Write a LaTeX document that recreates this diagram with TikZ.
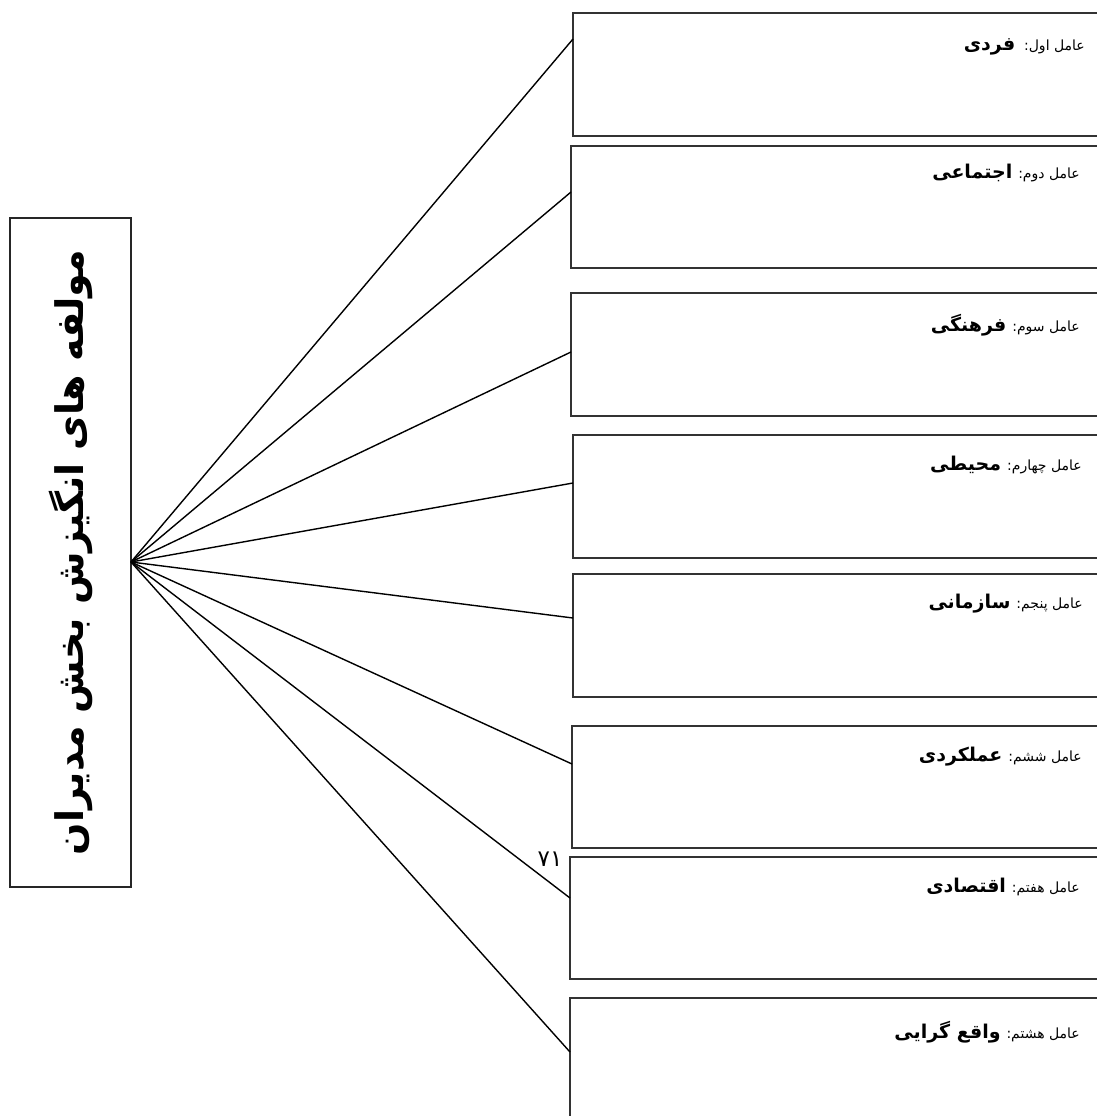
\documentclass[tikz,border=0pt]{standalone}
\usepackage{fontspec}
\usetikzlibrary{calc}
\TeXXeTstate=1
\newfontfamily\arabicfont[Script=Arabic]{DejaVu Sans}
\begin{document}
\begin{tikzpicture}[x=1pt,y=-1pt,
  factorbox/.style={draw=black!80, line width=1.4pt, rectangle, anchor=north west,
    minimum width=540pt, inner sep=0pt, outer sep=0pt},
  titlebox/.style={draw=black!85, line width=1.4pt, rectangle, anchor=north west,
    minimum width=121pt, minimum height=669pt, inner sep=0pt, outer sep=0pt},
  link/.style={line width=1.4pt, black},
  factortext/.style={anchor=east, inner sep=0pt, font=\arabicfont\fontsize{14}{16}\selectfont},
]
\newcommand\kw[1]{{\bfseries\fontsize{19}{21}\selectfont #1}}
\useasboundingbox (0,0) rectangle (1096,1116);

% main title box
\node[titlebox] (title) at (10,218) {};
\node[rotate=90, inner sep=0pt, font=\arabicfont\bfseries\fontsize{38}{42}\selectfont]
  (titletext) at (title.center) {\beginR مولفه های انگیزش بخش مدیران\endR};
\coordinate (hub) at (title.east |- 0,562);

% factor boxes
\node[factorbox, minimum height=123pt] (b1) at (573,13) {};
\node[factorbox, minimum height=122pt] (b2) at (571,146) {};
\node[factorbox, minimum height=123pt] (b3) at (571,293) {};
\node[factorbox, minimum height=123pt] (b4) at (573,435) {};
\node[factorbox, minimum height=123pt] (b5) at (573,574) {};
\node[factorbox, minimum height=122pt] (b6) at (572,726) {};
\node[factorbox, minimum height=122pt] (b7) at (570,857) {};
\node[factorbox, minimum height=140pt] (b8) at (570,998) {};

% factor labels
\node[factortext] (t1) at (1085,47)  {\beginR عامل اول:\ \ \kw{فردی}\endR};
\node[factortext] (t2) at (1080,173) {\beginR عامل دوم: \kw{اجتماعی}\endR};
\node[factortext] (t3) at (1080,325) {\beginR عامل سوم: \kw{فرهنگی}\endR};
\node[factortext] (t4) at (1082,465) {\beginR عامل چهارم: \kw{محیطی}\endR};
\node[factortext] (t5) at (1083,604) {\beginR عامل پنجم: \kw{سازمانی}\endR};
\node[factortext] (t6) at (1082,757) {\beginR عامل ششم: \kw{عملکردی}\endR};
\node[factortext] (t7) at (1080,887) {\beginR عامل هفتم: \kw{اقتصادی}\endR};
\node[factortext] (t8) at (1080,1032) {\beginR عامل هشتم: \kw{واقع گرایی}\endR};

% page number
\node[inner sep=0pt, font=\arabicfont\fontsize{23}{25}\selectfont] (pagenum) at (550,859) {۷۱};

% connectors
\draw[link] (hub) -- ($(b1.north west)+(0,26)$);
\draw[link] (hub) -- ($(b2.north west)+(0,46)$);
\draw[link] (hub) -- ($(b3.north west)+(0,59)$);
\draw[link] (hub) -- ($(b4.north west)+(0,48)$);
\draw[link] (hub) -- ($(b5.north west)+(0,44)$);
\draw[link] (hub) -- ($(b6.north west)+(0,38)$);
\draw[link] (hub) -- ($(b7.north west)+(0,41)$);
\draw[link] (hub) -- ($(b8.north west)+(0,54)$);
\end{tikzpicture}
\end{document}
